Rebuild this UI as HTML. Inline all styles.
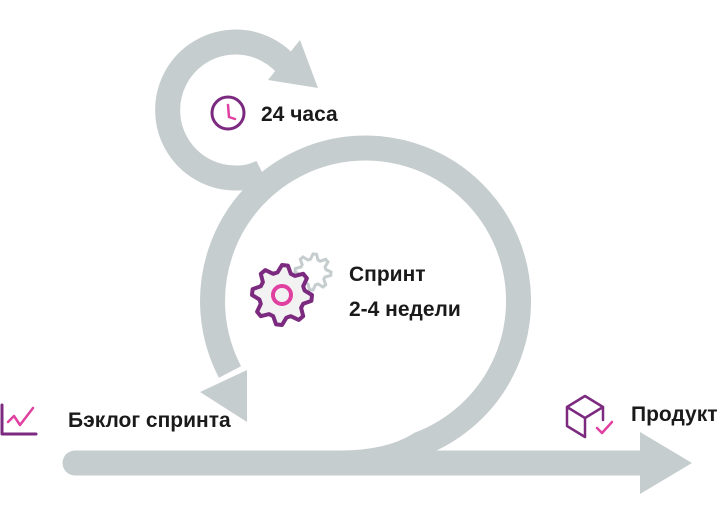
<!DOCTYPE html>
<html><head><meta charset="utf-8"><style>
body{margin:0;background:#fff;width:724px;height:515px;overflow:hidden}
svg{display:block}
text{font-family:"Liberation Sans","Noto Sans CJK SC",sans-serif;font-weight:bold;fill:#1a1a1a;font-size:21px}
</style></head><body>
<svg width="724" height="515" viewBox="0 0 724 515">
<g fill="none" stroke="#c6cdcf" stroke-width="25">
 <path d="M75 463 L645 463" stroke-linecap="round"/>
 <path d="M340 463 Q390 463 420 444 A153 153 0 1 0 230 372"/>
 <path d="M262 172 Q250 178 238 178 A68 68 0 1 1 292 72"/>
</g>
<g fill="#c6cdcf">
 <polygon points="640,432 692,463 640,494"/>
 <polygon points="200,392 247,370 247,422"/>
 <polygon points="268,80 300,40 318,88"/>
</g>
<g>
 <circle cx="228" cy="113" r="16" fill="#fff" stroke="#7b2a7f" stroke-width="3"/>
 <path d="M228 105 L229 117 L235 119" fill="none" stroke="#e040a0" stroke-width="2.5" stroke-linecap="round"/>
</g>
<text x="261" y="121">24 часа</text>
<g id="gears"></g>
<text x="349" y="281">Спринт</text>
<text x="349" y="316">2-4 недели</text>
<g fill="none" stroke-linecap="round" stroke-linejoin="round">
 <path d="M2 405 L2 434 L36 434" stroke="#7b2a7f" stroke-width="3"/>
 <path d="M8 422 L14 416 L20 425 L33 408" stroke="#e040a0" stroke-width="2.5"/>
</g>
<text x="68" y="427">Бэклог спринта</text>
<g fill="none" stroke-linejoin="round" stroke-linecap="round">
 <path d="M567 407 L585 396 L603 407 L603 420 M567 407 L567 426 L585 437 M567 407 L585 418 L603 407 M585 418 L585 437" stroke="#7b2a7f" stroke-width="2.5"/>
 <path d="M597 428 L602 433 L612 422" stroke="#e040a0" stroke-width="2.5"/>
</g>
<text x="631" y="421">Продукт</text>
</svg>
<script>
function gear(cx,cy,R,r,n){let p=[];for(let i=0;i<n*4;i++){let a=(i/(n*4))*Math.PI*2-Math.PI/2;let rad=(i%4<2)?R:r;p.push((cx+rad*Math.cos(a)).toFixed(1)+','+(cy+rad*Math.sin(a)).toFixed(1));}return 'M'+p.join('L')+'Z';}
const g=document.getElementById('gears');const ns='http://www.w3.org/2000/svg';
const g2=document.createElementNS(ns,'path');


g2.setAttribute('d',gear(313,272,18,13,8));g2.setAttribute('fill','#fff');g2.setAttribute('stroke','#c6cdcf');g2.setAttribute('stroke-width','3');g.appendChild(g2);
const g1=document.createElementNS(ns,'path');


g1.setAttribute('d',gear(282,295,30,23,8));g1.setAttribute('fill','#f3f2f2');g1.setAttribute('stroke','#7b2a7f');g1.setAttribute('stroke-width','4');g1.setAttribute('stroke-linejoin','round');g.appendChild(g1);
const c=document.createElementNS(ns,'circle');


c.setAttribute('cx','282');c.setAttribute('cy','295');c.setAttribute('r','9');c.setAttribute('fill','none');c.setAttribute('stroke','#e040a0');c.setAttribute('stroke-width','4');g.appendChild(c);
</script>
</body></html>
